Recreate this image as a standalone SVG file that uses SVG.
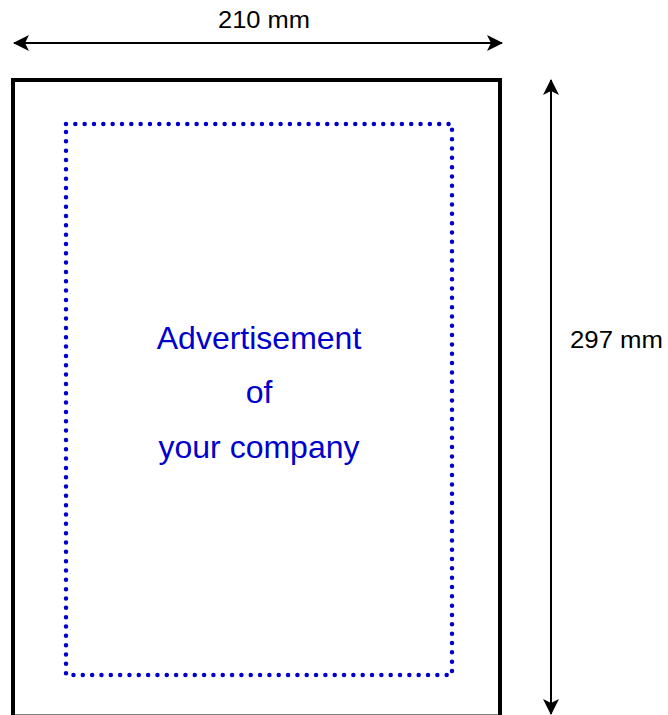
<svg xmlns="http://www.w3.org/2000/svg" width="668" height="715" viewBox="0 0 668 715">
<style>
.dim{font-family:"Liberation Sans",Arial,sans-serif;font-size:24px;fill:#000}
.ad{font-family:"Liberation Sans",Arial,sans-serif;font-size:32px;fill:#0000cc;text-anchor:middle}
.arrow{stroke:#000;stroke-width:2;fill:none}
</style>
<defs>
<marker id="ah" viewBox="0 0 16 16" refX="15" refY="8" markerWidth="16" markerHeight="16" markerUnits="userSpaceOnUse" orient="auto-start-reverse">
<path d="M0,0 L16,8 L0,16 L4,8 Z" fill="#000"/>
</marker>
</defs>
<rect width="668" height="715" fill="#fff"/>
<g id="page">
<rect x="13" y="80" width="487" height="636.5" fill="#fff" stroke="#000" stroke-width="4"/>
</g>
<g id="ad-area">
<rect x="66" y="124" width="386" height="551" fill="none" stroke="#0000cc" stroke-width="4.5" stroke-linecap="round" stroke-dasharray="0 9.33"/>
<text class="ad" x="259" y="349">Advertisement</text>
<text class="ad" x="259" y="403">of</text>
<text class="ad" x="259" y="458">your company</text>
</g>
<g id="connectors">
<line class="arrow" x1="14" y1="43" x2="502" y2="43" marker-start="url(#ah)" marker-end="url(#ah)"/>
<line class="arrow" x1="551" y1="80" x2="551" y2="714" marker-start="url(#ah)" marker-end="url(#ah)"/>
</g>
<g id="labels">
<text class="dim" x="218" y="28" textLength="92" lengthAdjust="spacingAndGlyphs">210 mm</text>
<text class="dim" x="570" y="348" textLength="93" lengthAdjust="spacingAndGlyphs">297 mm</text>
</g>
</svg>
